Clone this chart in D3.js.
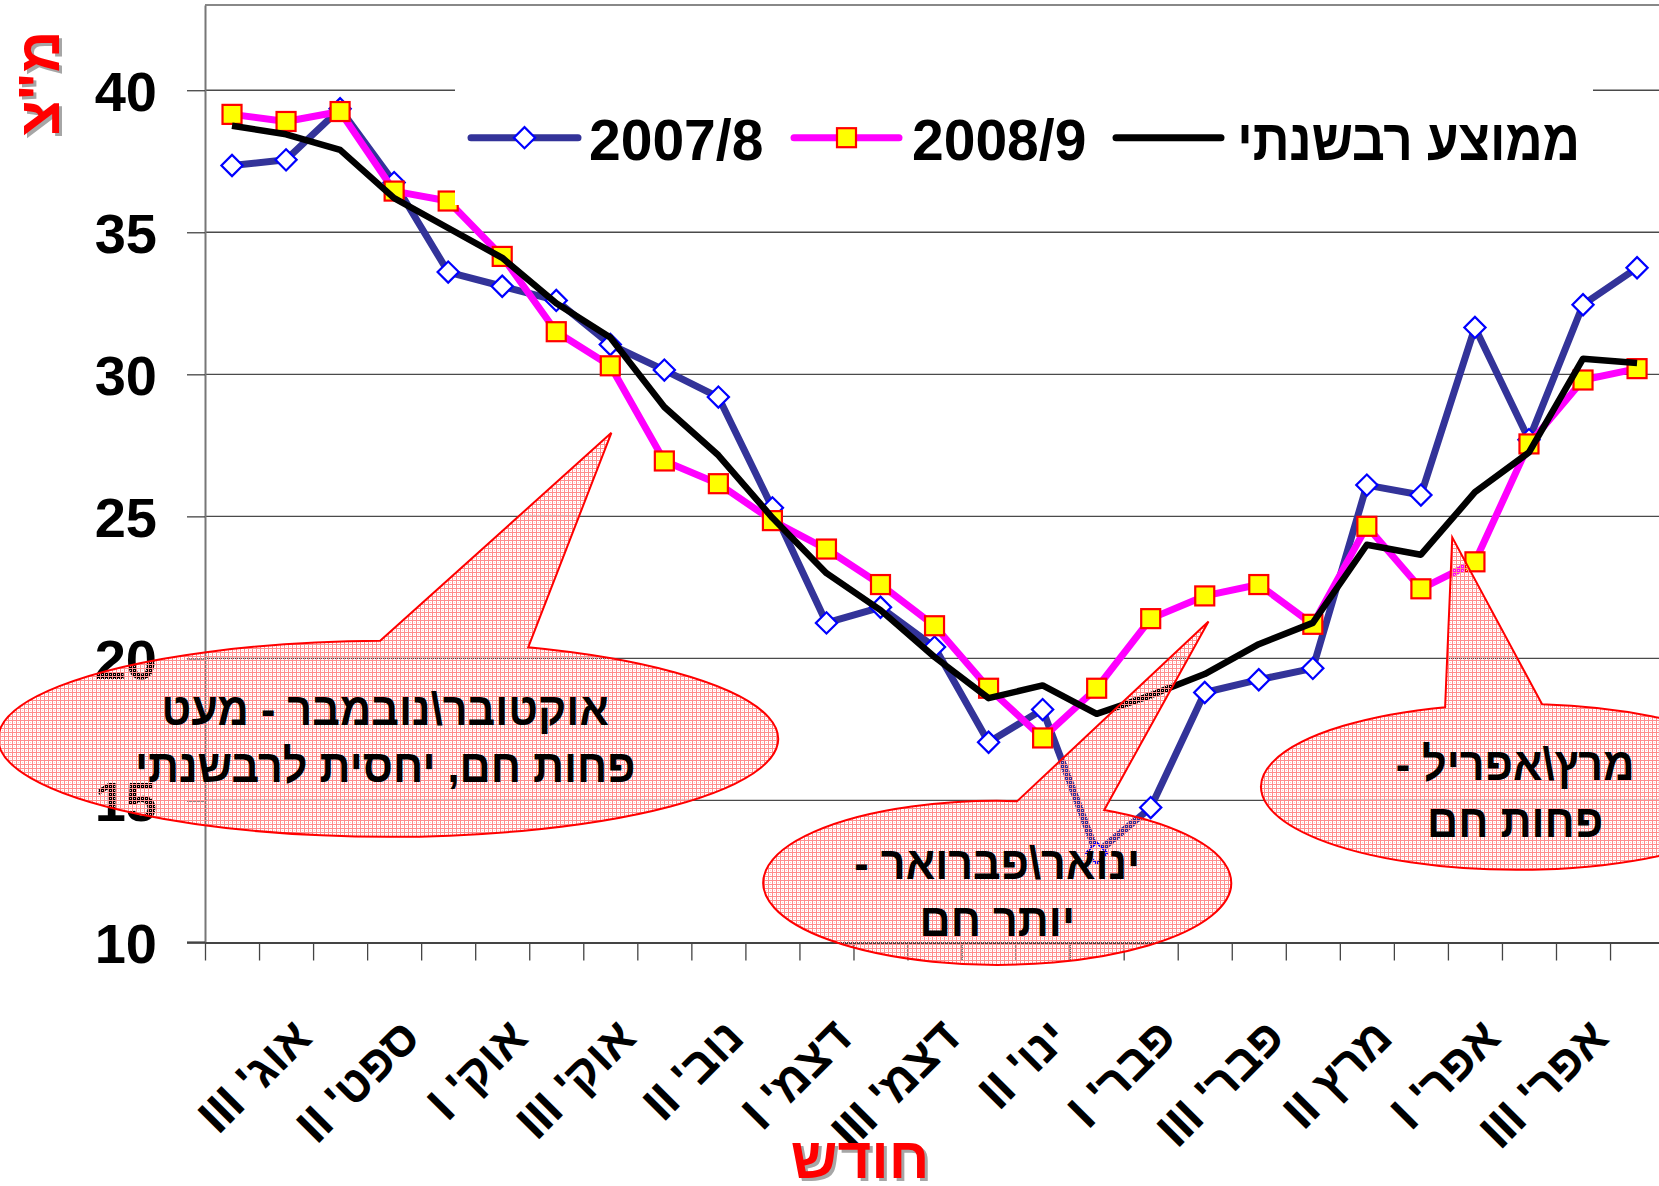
<!DOCTYPE html>
<html>
<head>
<meta charset="utf-8">
<script src="https://cdn.jsdelivr.net/npm/d3@7"></script>
<style>
  body { margin: 0; background: #fff; }
  svg { display: block; }
  text { font-family: "Liberation Sans", Arial, "DejaVu Sans", sans-serif; font-weight: bold; }
</style>
</head>
<body>
<div id="chart"></div>
<script>
// chart size
var width = 1659
var height = 1186

// ten-day periods (aug II .. may I), every other one gets a label
var categories = ["אוג' II", "אוג' III", "ספט' I", "ספט' II", "ספט' III", "אוק' I", "אוק' II", "אוק' III",
  "נוב' I", "נוב' II", "נוב' III", "דצמ' I", "דצמ' II", "דצמ' III", "ינו' I", "ינו' II", "ינו' III",
  "פבר' I", "פבר' II", "פבר' III", "מרץ I", "מרץ II", "מרץ III", "אפר' I", "אפר' II", "אפר' III", "מאי I"]

var season0708 = [37.35, 37.55, 39.35, 36.75, 33.6, 33.1, 32.6, 31.05, 30.15, 29.2, 25.3, 21.25, 21.8, 20.4,
  17.05, 18.2, 13.15, 14.75, 18.8, 19.25, 19.65, 26.1, 25.75, 31.65, 27.7, 32.45, 33.75]
var season0809 = [39.15, 38.9, 39.25, 36.45, 36.1, 34.15, 31.5, 30.3, 26.95, 26.15, 24.85, 23.85, 22.6, 21.15,
  18.95, 17.2, 18.95, 21.4, 22.2, 22.6, 21.2, 24.65, 22.45, 23.4, 27.55, 29.8, 30.2]
var multiYear = [38.75, 38.45, 37.9, 36.2, 35.15, 34.1, 32.5, 31.3, 28.85, 27.15, 24.95, 23.0, 21.7, 20.05,
  18.6, 19.05, 18.05, 18.7, 19.45, 20.5, 21.25, 24.0, 23.65, 25.85, 27.25, 30.55, 30.4]

var yTicks = [10, 15, 20, 25, 30, 35, 40]
var seriesNames = ["2007/8", "2008/9", "ממוצע רבשנתי"]
var yTitle = 'מ"צ'
var xTitle = "חודש"

// callouts: text lines, ellipse centre and wedge tip in data units (category index, value)
var notes = [
  { lines: ["אוקטובר\\נובמבר - מעט", "פחות חם, יחסית לרבשנתי"], cx: 2.89, cy: 17.17, tipX: 7.02, tipY: 27.94 },
  { lines: ["ינואר\\פברואר -", "יותר חם"], cx: 14.16, cy: 12.1, tipX: 18.07, tipY: 21.3 },
  { lines: ["מרץ\\אפריל -", "פחות חם"], cx: 23.78, cy: 15.48, tipX: 22.58, tipY: 24.26 }
]
var noteShape = [
  { rx: 390, ry: 98, base: [-8, 140], textDx: -3, baselines: [-14, 43] },
  { rx: 234, ry: 82, base: [20, 107], textDx: 0, baselines: [-4, 53] },
  { rx: 256, ry: 83, base: [-72, 25], textDx: -2, baselines: [-7, 50] }
]

function rtl(s) { return "\u202B" + s + "\u202C" }

// squeeze a text a little, the original font is narrower
function narrow(sel, k) {
  sel.each(function () {
    var w = this.getComputedTextLength()
    d3.select(this).attr("textLength", w * k).attr("lengthAdjust", "spacingAndGlyphs")
  })
}

var plotLeft = 205, plotTop = 5, plotBottom = 942.5
var step = 54.04
var plotRight = plotLeft + categories.length * step

var svg = d3.select("#chart")
  .append("svg")
  .attr("width", width)
  .attr("height", height)

var defs = svg.append("defs")
var pat = defs.append("pattern")
  .attr("id", "hatch")
  .attr("patternUnits", "userSpaceOnUse")
  .attr("width", 4)
  .attr("height", 4)
pat.append("rect").attr("x", 0).attr("y", 0).attr("width", 4).attr("height", 1).attr("fill", "#ff8c8c")
pat.append("rect").attr("x", 0).attr("y", 1).attr("width", 1).attr("height", 3).attr("fill", "#ff8c8c")
pat.append("rect").attr("x", 2).attr("y", 2).attr("width", 1).attr("height", 1).attr("fill", "#ffc8c8")

var xb = d3.scaleLinear().domain([0, categories.length]).range([plotLeft, plotRight])
var y = d3.scaleLinear().domain([10, 43]).range([plotBottom, plotTop])
function cx(i) { return xb(i + 0.5) }

// gridlines
svg.append("g")
  .selectAll("line")
  .data(yTicks.filter(function (d) { return d > 10 }))
  .enter()
  .append("line")
  .attr("x1", plotLeft)
  .attr("x2", plotRight)
  .attr("y1", function (d) { return y(d) })
  .attr("y2", function (d) { return y(d) })
  .attr("stroke", "#4a4a4a")
  .attr("stroke-width", 1.3)

// frame top
svg.append("line")
  .attr("x1", plotLeft).attr("x2", width)
  .attr("y1", plotTop).attr("y2", plotTop)
  .attr("stroke", "#888").attr("stroke-width", 2)

// y axis
var yAxis = svg.append("g")
  .attr("transform", "translate(" + plotLeft + ",0)")
  .call(d3.axisLeft(y).tickValues(yTicks).tickSize(18).tickSizeOuter(0).tickPadding(30))
yAxis.select(".domain").attr("stroke", "#777").attr("stroke-width", 2)
yAxis.selectAll(".tick line").attr("stroke", "#444").attr("stroke-width", 1.3)
yAxis.selectAll(".tick text")
  .attr("fill", "#000")
  .style("font-size", "56px")
  .attr("dy", "0.36em")

// x axis, ticks between categories
var xAxis = svg.append("g")
  .attr("transform", "translate(0," + plotBottom + ")")
  .call(d3.axisBottom(xb).tickValues(d3.range(categories.length + 1)).tickSize(18).tickSizeOuter(0).tickFormat(""))
xAxis.select(".domain").attr("stroke", "#444").attr("stroke-width", 2.2)
xAxis.selectAll(".tick line").attr("stroke", "#444").attr("stroke-width", 1.3)
svg.append("line")
  .attr("x1", 187).attr("x2", plotLeft)
  .attr("y1", plotBottom).attr("y2", plotBottom)
  .attr("stroke", "#444").attr("stroke-width", 2.2)

svg.append("g")
  .selectAll("text")
  .data(categories.map(function (c, i) { return { c: c, i: i } }).filter(function (d) { return d.i % 2 == 1 }))
  .enter()
  .append("text")
  .attr("transform", function (d) { return "translate(" + (cx(d.i) + 28) + ",1040) rotate(-45)" })
  .attr("text-anchor", "end")
  .style("font-size", "48px")
  .text(function (d) { return rtl(d.c) })

// series
var line = d3.line()
  .x(function (d, i) { return cx(i) })
  .y(function (d) { return y(d) })

svg.append("path")
  .datum(season0708)
  .attr("d", line)
  .attr("fill", "none")
  .attr("stroke", "#333399")
  .attr("stroke-width", 7)
  .attr("stroke-linejoin", "round")
svg.append("g")
  .selectAll("path")
  .data(season0708)
  .enter()
  .append("path")
  .attr("d", d3.symbol().type(d3.symbolSquare).size(15 * 15))
  .attr("transform", function (d, i) { return "translate(" + cx(i) + "," + y(d) + ") rotate(45)" })
  .attr("fill", "#fff")
  .attr("stroke", "#0000ff")
  .attr("stroke-width", 2.2)

svg.append("path")
  .datum(season0809)
  .attr("d", line)
  .attr("fill", "none")
  .attr("stroke", "#ff00ff")
  .attr("stroke-width", 7)
  .attr("stroke-linejoin", "round")
svg.append("g")
  .selectAll("rect")
  .data(season0809)
  .enter()
  .append("rect")
  .attr("x", function (d, i) { return cx(i) - 9.5 })
  .attr("y", function (d) { return y(d) - 9.5 })
  .attr("width", 19)
  .attr("height", 19)
  .attr("fill", "#ffff00")
  .attr("stroke", "#ff0000")
  .attr("stroke-width", 2.2)

svg.append("path")
  .datum(multiYear)
  .attr("d", line)
  .attr("fill", "none")
  .attr("stroke", "#000")
  .attr("stroke-width", 6.5)
  .attr("stroke-linejoin", "round")

// legend
var lg = svg.append("g")
lg.append("rect").attr("x", 455).attr("y", 70).attr("width", 1138).attr("height", 135).attr("fill", "#fff")
var legendY = 137.7
var legendItems = [
  { x1: 471, x2: 578, color: "#333399", marker: "diamond", tx: 589, anchor: "start", name: seriesNames[0] },
  { x1: 794, x2: 899, color: "#ff00ff", marker: "square", tx: 912, anchor: "start", name: seriesNames[1] },
  { x1: 1116, x2: 1221, color: "#000", marker: null, tx: 1580, anchor: "end", name: seriesNames[2] }
]
legendItems.forEach(function (d) {
  lg.append("line")
    .attr("x1", d.x1).attr("x2", d.x2)
    .attr("y1", legendY).attr("y2", legendY)
    .attr("stroke", d.color).attr("stroke-width", 7).attr("stroke-linecap", "round")
  var mx = (d.x1 + d.x2) / 2
  if (d.marker == "diamond") {
    lg.append("path")
      .attr("d", d3.symbol().type(d3.symbolSquare).size(15 * 15))
      .attr("transform", "translate(" + mx + "," + legendY + ") rotate(45)")
      .attr("fill", "#fff").attr("stroke", "#0000ff").attr("stroke-width", 2.2)
  } else if (d.marker == "square") {
    lg.append("rect")
      .attr("x", mx - 9.5).attr("y", legendY - 9.5).attr("width", 19).attr("height", 19)
      .attr("fill", "#ffff00").attr("stroke", "#ff0000").attr("stroke-width", 2.2)
  }
  var t = lg.append("text")
    .attr("x", d.tx).attr("y", 160)
    .attr("text-anchor", d.anchor)
    .style("font-size", "57px")
    .text(d.anchor == "end" ? rtl(d.name) : d.name)
  if (d.anchor == "end") narrow(t, 0.9)
})

// callouts
notes.forEach(function (n, k) {
  var s = noteShape[k]
  var ex = xb(n.cx + 0.5), ey = y(n.cy)
  var tx = xb(n.tipX + 0.5), ty = y(n.tipY)
  var p1x = ex + s.base[0], p1y = ey - s.ry * Math.sqrt(1 - Math.pow(s.base[0] / s.rx, 2))
  var p2x = ex + s.base[1], p2y = ey - s.ry * Math.sqrt(1 - Math.pow(s.base[1] / s.rx, 2))
  var d = "M" + p1x + "," + p1y + " L" + tx + "," + ty + " L" + p2x + "," + p2y +
    " A" + s.rx + "," + s.ry + " 0 1 1 " + p1x + "," + p1y + " Z"
  svg.append("path")
    .attr("d", d)
    .attr("fill", "url(#hatch)")
    .attr("stroke", "#ff0000")
    .attr("stroke-width", 2)
  n.lines.forEach(function (t, j) {
    var el = svg.append("text")
      .attr("x", ex + s.textDx)
      .attr("y", ey + s.baselines[j])
      .attr("text-anchor", "middle")
      .style("font-size", "47px")
      .text(rtl(t))
    narrow(el, 0.92)
  })
})

// axis titles with shadow
function title(txt, x0, y0, rot) {
  var g = svg.append("g")
  g.append("text")
    .attr("transform", "translate(" + (x0 + 3) + "," + (y0 + 3) + ") rotate(" + rot + ")")
    .attr("text-anchor", "middle")
    .attr("fill", "#a6a6a6")
    .style("font-size", "58px")
    .text(rtl(txt))
  g.append("text")
    .attr("transform", "translate(" + x0 + "," + y0 + ") rotate(" + rot + ")")
    .attr("text-anchor", "middle")
    .attr("fill", "#ff0000")
    .style("font-size", "58px")
    .text(rtl(txt))
}
title(yTitle, 59, 83, -90)
title(xTitle, 860, 1178, 0)
</script>
</body>
</html>
